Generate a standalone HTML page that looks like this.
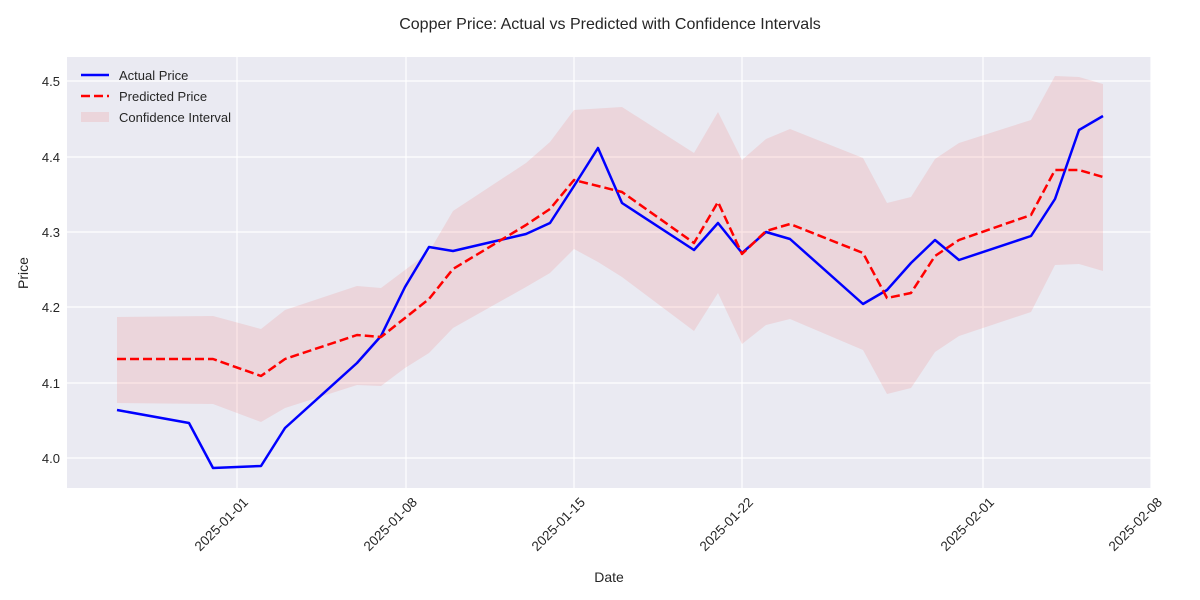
<!DOCTYPE html>
<html><head><meta charset="utf-8"><style>
body{margin:0;background:#fff;}
svg{display:block;font-family:"Liberation Sans","DejaVu Sans",sans-serif;}
</style></head><body>
<svg width="1200" height="600" viewBox="0 0 1200 600">
<rect width="1200" height="600" fill="#fff"/>
<text x="610" y="29" font-size="16" text-anchor="middle" fill="#262626">Copper Price: Actual vs Predicted with Confidence Intervals</text>
<rect x="67" y="57" width="1084" height="431" fill="#eaeaf2"/>
<g stroke="#fff" stroke-width="1.2">
<line x1="67" x2="1151" y1="81" y2="81"/><line x1="67" x2="1151" y1="157" y2="157"/>
<line x1="67" x2="1151" y1="232" y2="232"/><line x1="67" x2="1151" y1="307" y2="307"/>
<line x1="67" x2="1151" y1="383" y2="383"/><line x1="67" x2="1151" y1="458" y2="458"/>
<line x1="237" x2="237" y1="57" y2="488"/><line x1="406" x2="406" y1="57" y2="488"/>
<line x1="574" x2="574" y1="57" y2="488"/><line x1="742" x2="742" y1="57" y2="488"/>
<line x1="983" x2="983" y1="57" y2="488"/><line x1="1151" x2="1151" y1="57" y2="488"/>
</g>
<polygon fill="#f08080" fill-opacity="0.2" points="117,317 213,316 261,329 285,310 357,286 381,288 405,270 429,252 453,211 526,163 550,142 574,110 622,107 694,153 718,112 742,160 766,139 790,129 863,158 887,203 911,197 935,159 959,143 1031,120 1055,76 1079,77 1103,84 1103,271 1079,264 1055,265 1031,312 959,336 935,352 911,388 887,394 863,350 790,319 766,325 742,344 718,293 694,331 622,277 598,262 574,249 550,273 526,287 453,328 429,353 405,368 381,386 357,385 285,408 261,422 213,404 117,403"/>
<polyline fill="none" stroke="#0000ff" stroke-width="2.5" stroke-linejoin="round" points="117,410 189,423 213,468 261,466 285,428 357,363 381,336 405,287 429,247 453,251 526,234 550,223 574,186 598,148 622,203 694,250 718,223 742,253 766,232 790,239 863,304 887,290 911,263 935,240 959,260 1031,236 1055,199 1079,130 1103,116"/>
<polyline fill="none" stroke="#ff0000" stroke-width="2.5" stroke-dasharray="9,4" stroke-linejoin="round" points="117,359 189,359 213,359 261,376 285,359 357,335 381,337 405,318 429,299 453,269 526,225 550,209 574,180 598,186 622,192 694,243 718,202 742,254 766,231 790,224 863,253 887,298 911,293 935,256 959,240 1031,215 1055,170 1079,170 1103,177"/>
<g font-size="13" fill="#262626" text-anchor="end">
<text x="60" y="86">4.5</text><text x="60" y="162">4.4</text><text x="60" y="237">4.3</text>
<text x="60" y="312">4.2</text><text x="60" y="388">4.1</text><text x="60" y="463">4.0</text>
</g>
<g font-size="13.5" fill="#262626" text-anchor="end">
<text transform="translate(249,503) rotate(-45)">2025-01-01</text>
<text transform="translate(418,503) rotate(-45)">2025-01-08</text>
<text transform="translate(586,503) rotate(-45)">2025-01-15</text>
<text transform="translate(754,503) rotate(-45)">2025-01-22</text>
<text transform="translate(995,503) rotate(-45)">2025-02-01</text>
<text transform="translate(1163,503) rotate(-45)">2025-02-08</text>
</g>
<text x="609" y="582" font-size="14" text-anchor="middle" fill="#262626">Date</text>
<text transform="translate(28,273) rotate(-90)" font-size="14" text-anchor="middle" fill="#262626">Price</text>
<g font-size="13" fill="#262626">
<line x1="81" x2="109" y1="75" y2="75" stroke="#0000ff" stroke-width="2.5"/>
<text x="119" y="80">Actual Price</text>
<line x1="81" x2="109" y1="96" y2="96" stroke="#ff0000" stroke-width="2.5" stroke-dasharray="9,4"/>
<text x="119" y="101">Predicted Price</text>
<rect x="81" y="112" width="28" height="10" fill="#f08080" fill-opacity="0.2"/>
<text x="119" y="122">Confidence Interval</text>
</g>
</svg>
</body></html>
